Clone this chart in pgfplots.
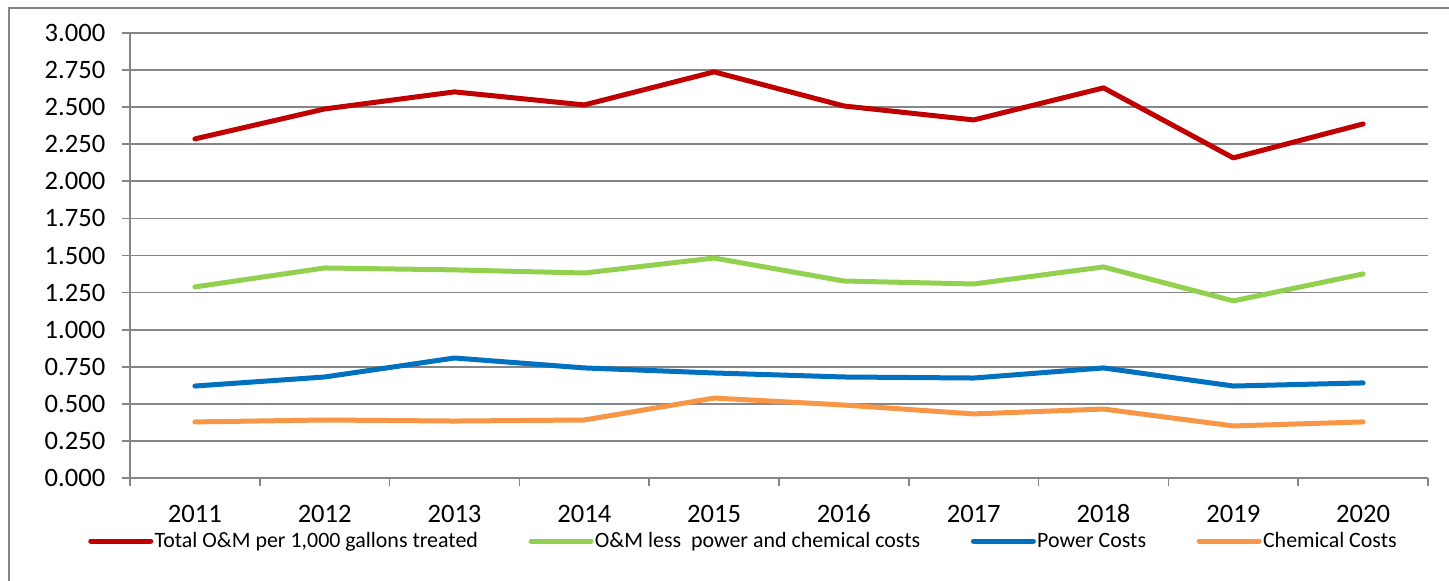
\documentclass[border=0pt]{standalone}
\usepackage{fontspec}
\setmainfont{Carlito}
\usepackage{pgfplots}
\pgfplotsset{compat=1.18}
\definecolor{omred}{HTML}{C00000}
\definecolor{omgreen}{HTML}{92D050}
\definecolor{ompower}{HTML}{0070C0}
\definecolor{omchem}{HTML}{F79646}
\definecolor{axgray}{HTML}{868686}

\begin{document}
\begin{tikzpicture}
\begin{axis}[
    scale only axis,
    width=973.5bp, height=333.75bp,
    xmin=-0.5, xmax=9.5,
    ymin=0, ymax=3,
    axis x line*=bottom, axis y line*=left,
    axis line style={axgray, line width=1.3bp, -},
    xtick={0,...,9},
    xticklabels={2011,2012,2013,2014,2015,2016,2017,2018,2019,2020},
    minor xtick={-0.5,0.5,...,9.5},
    ytick={0,0.25,...,3},
    tick align=outside,
    major tick length=6bp, minor tick length=6bp,
    major x tick style={draw=none},
    minor x tick style={axgray, line width=1.3bp},
    ytick style={axgray, line width=1.3bp},
    ymajorgrids,
    major grid style={axgray, line width=1.3bp},
    /pgf/number format/.cd, fixed, fixed zerofill, precision=3, assume math mode=true,
    /pgfplots/.cd,
    ticklabel style={font=\fontsize{20}{22}\selectfont, text=black},
    yticklabel style={xshift=-9bp},
    xticklabel style={yshift=-11bp, text height=13bp, text depth=0bp},
    legend columns=4,
    legend style={at={(0,0)}, anchor=west, xshift=-31.5bp, yshift=-47.25bp,
        draw=none, fill=none, inner sep=0pt,
        font=\fontsize{16.5}{18}\selectfont,
        /tikz/every even column/.append style={column sep=37bp},
        nodes={inner xsep=1bp}},
    legend image code/.code={\draw[#1] (0bp,0bp) -- (45bp,0bp);},
    every axis plot/.append style={line width=3.75bp, line join=round, line cap=round},
]
\addplot[omred] coordinates {(0,2.286) (1,2.488) (2,2.603) (3,2.515) (4,2.738) (5,2.508) (6,2.414) (7,2.630) (8,2.158) (9,2.387)};
\addplot[omgreen] coordinates {(0,1.288) (1,1.416) (2,1.403) (3,1.382) (4,1.483) (5,1.328) (6,1.308) (7,1.423) (8,1.194) (9,1.376)};
\addplot[ompower] coordinates {(0,0.620) (1,0.681) (2,0.809) (3,0.742) (4,0.708) (5,0.681) (6,0.674) (7,0.742) (8,0.620) (9,0.641)};
\addplot[omchem] coordinates {(0,0.378) (1,0.391) (2,0.384) (3,0.391) (4,0.539) (5,0.492) (6,0.432) (7,0.465) (8,0.351) (9,0.378)};
\legend{{Total O\&M per 1,000 gallons treated}, {O\&M less\ \ power and chemical costs}, {Power Costs}, {Chemical Costs}}
\end{axis}
\draw[axgray, line width=1bp] (-90.75bp,-90bp) rectangle (1000bp,352.5bp);
\pgfresetboundingbox
\path[use as bounding box] (-97.5bp,-77.25bp) rectangle (989.25bp,358.5bp);
\end{tikzpicture}
\end{document}
